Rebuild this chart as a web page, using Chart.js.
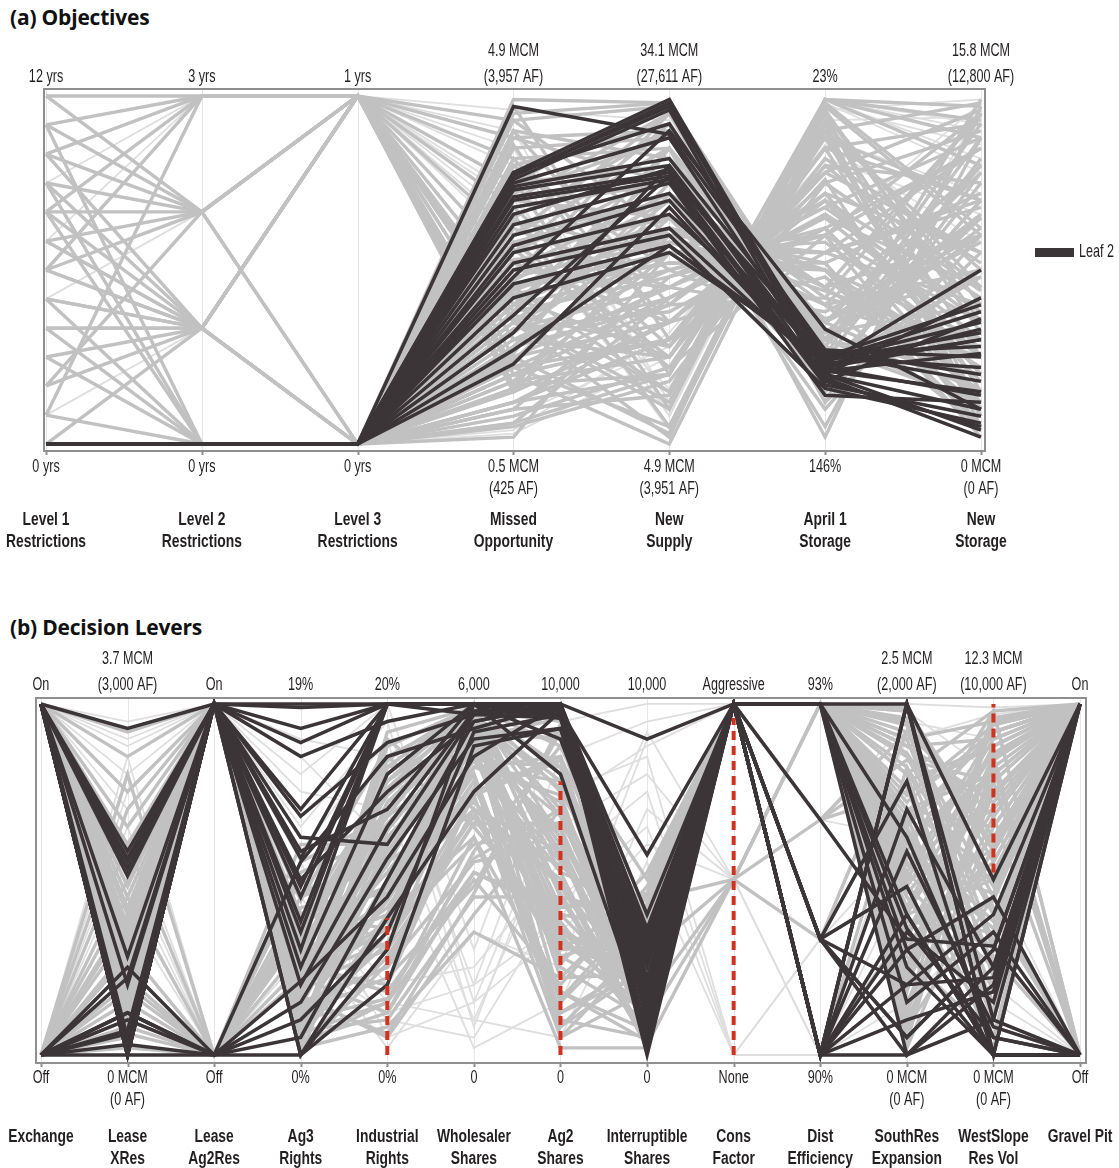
<!DOCTYPE html>
<html>
<head>
<meta charset="utf-8">
<script src="https://cdn.jsdelivr.net/npm/chart.js@4.4.1/dist/chart.umd.min.js"></script>
<style>
  body { margin: 0; background: #fff; }
  #page { position: relative; width: 1119px; height: 1168px; overflow: hidden; }
  canvas { position: absolute; left: 0; }
  .title { position: absolute; left: 10px; font: bold 21px "Open Sans", Lato, sans-serif; color: #111; line-height: 26px; letter-spacing: -0.2px; }
</style>
</head>
<body>
<div id="page">
  <div class="title" style="top:4px">(a) Objectives</div>
  <canvas id="objChart" width="1119" height="580" style="top:0"></canvas>
  <div class="title" style="top:614px">(b) Decision Levers</div>
  <canvas id="levChart" width="1119" height="588" style="top:580px"></canvas>
</div>
<script>
// (a) Objectives - axis labels
const objNames = [['Level 1', 'Restrictions'], ['Level 2', 'Restrictions'], ['Level 3', 'Restrictions'],
    ['Missed', 'Opportunity'], ['New', 'Supply'], ['April 1', 'Storage'], ['New', 'Storage']];
const objTop = [['12 yrs'], ['3 yrs'], ['1 yrs'], ['4.9 MCM', '(3,957 AF)'], ['34.1 MCM', '(27,611 AF)'],
    ['23%'], ['15.8 MCM', '(12,800 AF)']];
const objBottom = [['0 yrs'], ['0 yrs'], ['0 yrs'], ['0.5 MCM', '(425 AF)'], ['4.9 MCM', '(3,951 AF)'],
    ['146%'], ['0 MCM', '(0 AF)']];

// positions on each axis, 0 = bottom label, 1 = top label
const objGray = [
    [1, .667, 1, .93, .97, .12, .55], [.917, 1, 1, .88, .90, .20, .70], [.833, 1, 1, .82, .85, .25, .35],
    [.75, .667, 1, .75, .80, .30, .92], [.583, .333, 1, .68, .75, .35, .15], [.5, .667, 1, .60, .70, .45, .60],
    [.417, .333, 1, .52, .62, .40, .80], [.25, .333, 1, .45, .55, .50, .30], [.167, .667, 1, .38, .48, .60, .95],
    [.083, 1, 1, .30, .42, .65, .45], [0, .333, 1, .25, .35, .70, .20], [.667, 1, 1, .20, .30, .80, .75],
    [.333, .333, 1, .17, .20, .90, .50], [1, 1, 1, .35, .10, .99, .88], [.75, .333, 1, .22, .05, .95, .10],
    [.5, 1, 1, .40, .15, .99, .97], [.917, .667, 0, .55, .65, .35, .65], [.833, .333, 0, .48, .58, .55, .40],
    [.667, .667, 0, .40, .50, .62, .85], [.583, .333, 0, .33, .45, .70, .25], [.5, .333, 0, .28, .40, .78, .55],
    [.417, 0, 0, .22, .30, .85, .70], [.333, .333, 0, .18, .25, .92, .05], [.25, 0, 0, .12, .20, .99, .93],
    [.167, .333, 0, .10, .14, .97, .60], [.083, 0, 0, .06, .20, .95, .35], [.417, .333, 0, .35, .02, .99, .80],
    [.75, 0, 0, .45, .52, .50, .15], [.667, 0, 0, .50, .60, .40, .50], [.917, 0, 0, .58, .70, .30, .20],
    [0, 0, 0, .20, .00, .90, .98], [0, 0, 0, .05, .18, .75, .90], [0, 0, 0, .08, .22, .60, .85],
    [0, 0, 0, .12, .30, .55, .70], [0, 0, 0, .15, .35, .48, .10], [0, 0, 0, .20, .40, .42, .95],
    [0, 0, 0, .25, .45, .38, .60], [0, 0, 0, .30, .50, .32, .40], [0, 0, 0, .35, .55, .28, .80],
    [0, 0, 0, .40, .60, .22, .65], [0, 0, 0, .45, .65, .18, .75], [0, 0, 0, .50, .72, .10, .60],
    [0, 0, 0, .55, .78, .05, .88], [0, 0, 0, .60, .85, .02, .97], [0, 0, 0, .65, .90, .15, .50],
    [0, 0, 0, .70, .95, .25, .99], [0, 0, 0, .75, .99, .20, .70], [0, 0, 0, .80, .92, .12, .95],
    [0, 0, 0, .85, .88, .30, .60], [0, 0, 0, .90, .82, .35, .78], [0, 0, 0, .95, .98, .28, .88],
    [0, 0, 0, .99, .98, .30, .65], [0, 0, 0, .62, .45, .65, .30], [0, 0, 0, .52, .35, .72, .20],
    [0, 0, 0, .42, .25, .80, .45], [0, 0, 0, .32, .62, .50, .05], [0, 0, 0, .18, .55, .58, .25],
    [0, 0, 0, .10, .48, .68, .35], [0, 0, 0, .28, .75, .45, .15], [0, 0, 0, .38, .85, .30, .62],
    [0, 0, 0, .48, .95, .18, .78], [0, 0, 0, .58, .25, .85, .92], [0, 0, 0, .68, .28, .88, .70],
    [0, 0, 0, .25, .03, .92, .45], [0, 0, 0, .33, .38, .62, .12], [0, 0, 0, .43, .52, .52, .02],
    [0, 0, 0, .53, .58, .44, .28], [0, 0, 0, .22, .42, .66, .38], [0, 0, 0, .47, .70, .36, .48],
    [0, 0, 0, .37, .28, .76, .08], [.833, .667, 1, .15, .60, .40, .05], [.667, .333, 1, .35, .70, .30, .12],
    [0, 0, 0, .55, .92, .22, .48], [0, 0, 0, .70, .65, .50, .22], [0, 0, 0, .80, .50, .60, .35],
    [0, 0, 0, .90, .40, .72, .55], [0, 0, 0, .97, .30, .85, .15], [0, 0, 0, .86, .20, .95, .40],
    [0, 0, 0, .76, .10, .98, .62], [0, 0, 0, .66, .05, .93, .25], [0, 0, 0, .45, .15, .90, .08],
    [.583, .667, 1, .30, .25, .82, .52], [.333, 0, 0, .12, .35, .70, .42], [0, 0, 0, .06, .42, .62, .18],
    [0, 0, 0, .02, .55, .55, .85], [0, 0, 0, .24, .65, .45, .95], [0, 0, 0, .40, .80, .35, .58],
    [0, 0, 0, .60, .95, .24, .82], [0, 0, 0, .72, .88, .28, .12], [0, 0, 0, .88, .75, .42, .30],
    [0, 0, 0, .93, .60, .55, .68], [0, 0, 0, .50, .45, .68, .88], [0, 0, 0, .20, .30, .78, .96],
    [.5, .333, 1, .36, .12, .96, .32], [0, 0, 0, .56, .22, .88, .15], [0, 0, 0, .82, .35, .75, .44],
    [0, 0, 0, .64, .55, .60, .05], [0, 0, 0, .44, .62, .52, .72], [0, 0, 0, .26, .85, .32, .66],
    [0, 0, 0, .16, .72, .40, .25]
];
const objGrayLight = [
    [1, 1, 1, .96, .93, .22, .96], [.917, 1, 1, .90, .12, .99, .90], [.833, .667, 1, .85, .08, .97, .86],
    [.75, 1, 1, .80, .12, .99, .92], [.667, .667, 1, .72, .08, .99, .82], [.583, 1, 1, .65, .04, .98, .78],
    [.5, .333, 1, .58, .16, .96, .99], [.417, .667, 1, .70, .22, .93, .94], [0, 0, 0, .03, .25, .88, .72],
    [0, 0, 0, .04, .32, .82, .66], [.25, .333, 0, .08, .28, .86, .58], [.083, .333, 1, .62, .45, .60, .98]
];
const objLeaf2 = [
    [0, 0, 0, .97, .89, .27, .25], [0, 0, 0, .78, .99, .22, .30], [0, 0, 0, .77, .98, .20, .10],
    [0, 0, 0, .77, .97, .24, .35], [0, 0, 0, .76, .96, .18, .05], [0, 0, 0, .78, .92, .25, .40],
    [0, 0, 0, .75, .88, .21, .15], [0, 0, 0, .74, .82, .26, .28], [0, 0, 0, .73, .80, .19, .02],
    [0, 0, 0, .71, .78, .23, .50], [0, 0, 0, .70, .77, .27, .20], [0, 0, 0, .68, .76, .17, .08],
    [0, 0, 0, .66, .79, .22, .33], [0, 0, 0, .63, .75, .14, .12], [0, 0, 0, .60, .72, .24, .38],
    [0, 0, 0, .57, .70, .20, .42], [0, 0, 0, .55, .66, .26, .18], [0, 0, 0, .52, .62, .21, .26],
    [0, 0, 0, .50, .60, .16, .06], [0, 0, 0, .46, .57, .23, .30], [0, 0, 0, .42, .55, .25, .22],
    [0, 0, 0, .37, .77, .18, .36], [0, 0, 0, .32, .80, .22, .14], [0, 0, 0, .27, .57, .24, .32],
    [0, 0, 0, .23, .68, .20, .04], [0, 0, 0, .48, .90, .33, .10]
];

// (b) Decision Levers - axis labels
const levNames = [['Exchange'], ['Lease', 'XRes'], ['Lease', 'Ag2Res'], ['Ag3', 'Rights'], ['Industrial', 'Rights'],
    ['Wholesaler', 'Shares'], ['Ag2', 'Shares'], ['Interruptible', 'Shares'], ['Cons', 'Factor'],
    ['Dist', 'Efficiency'], ['SouthRes', 'Expansion'], ['WestSlope', 'Res Vol'], ['Gravel Pit']];
const levTop = [['On'], ['3.7 MCM', '(3,000 AF)'], ['On'], ['19%'], ['20%'], ['6,000'], ['10,000'], ['10,000'],
    ['Aggressive'], ['93%'], ['2.5 MCM', '(2,000 AF)'], ['12.3 MCM', '(10,000 AF)'], ['On']];
const levBottom = [['Off'], ['0 MCM', '(0 AF)'], ['Off'], ['0%'], ['0%'], ['0'], ['0'], ['0'], ['None'], ['90%'],
    ['0 MCM', '(0 AF)'], ['0 MCM', '(0 AF)'], ['Off']];

const levGray = [
    [1, .02, 1, .05, .40, .95, .10, .05, 1, 1, .90, .95, 1], [1, .05, 1, .10, .55, 1, .25, .10, 1, 1, .70, .80, 1],
    [1, .08, 1, .15, .65, .90, .40, .15, 1, 1, .50, .90, 1], [1, .10, 1, .20, .30, .85, .55, .20, 1, 1, .30, .70, 1],
    [1, .12, 1, .02, .80, .98, .70, .25, 1, 1, .95, .60, 1], [1, .15, 1, .25, .20, .75, .85, .30, 1, 1, .80, .98, 0],
    [1, .18, 1, .08, .70, 1, .95, .35, 1, 1, .60, .85, 1], [1, .20, 1, .12, .45, .80, .15, .40, 1, 1, .40, .50, 1],
    [1, .22, 1, .30, .60, .95, .30, .45, 1, 1, .20, .75, 1], [1, .25, 1, .18, .90, .70, .50, .02, 1, 1, .85, .40, 0],
    [1, .28, 1, .05, .35, .60, .65, .08, 1, 1, .65, .92, 1], [1, .30, 1, .22, .75, 1, .80, .12, 1, 1, .10, .65, 1],
    [1, .33, 1, .10, .50, .90, .05, .18, 1, .67, .75, .88, 1], [1, .36, 1, .28, .85, .65, .35, .22, 1, 1, .55, .30, 1],
    [1, .40, 1, .15, .25, .55, .60, .28, 1, 1, .35, .78, 0], [1, .04, 1, .35, .68, 1, .75, .32, 1, 1, .98, .55, 1],
    [1, .06, 1, .40, .58, .92, .90, .38, 1, 1, .45, .20, 1], [1, .09, 1, .03, .15, .50, .20, .48, 1, 1, .25, .95, 1],
    [1, .14, 1, .07, .10, .45, .45, .03, .5, 1, .15, .68, 1], [1, .17, 1, .17, .05, .40, .70, .10, .5, .67, .92, .45, 1],
    [1, .24, 1, 0, .62, .88, .98, .16, .5, 1, .05, .82, 0], [1, .31, 1, .24, .42, .78, .12, .24, 1, 1, .68, .10, 1],
    [1, .45, 1, .13, .72, .96, .38, .06, 1, 1, .88, .72, 1], [1, .55, 1, .19, .88, .99, .62, .14, 1, 1, .50, .58, 1],
    [1, .65, 1, .26, .52, .84, .82, .26, 1, .33, .78, .88, 1], [1, .75, 1, .09, .32, .68, .28, .36, 1, 1, .38, .35, 1],
    [1, .85, 1, .33, .78, 1, .52, .42, 1, 1, .98, .62, 1], [1, .92, 1, .04, .12, .58, .88, .50, 1, 1, .58, .98, 0],
    [0, .10, 0, .30, .40, .62, .18, .04, 1, 1, .72, .92, 1], [0, .20, 0, .45, .55, .72, .48, .11, 1, 1, .32, .55, 1],
    [0, .30, 0, .55, .68, .86, .72, .19, 1, 1, .62, .80, 1], [0, .40, 1, .12, .22, .48, .92, .27, 1, 0, .82, .42, 0],
    [0, .50, 1, .20, .38, .78, .08, .33, 1, 1, .12, .96, 1], [0, .60, 0, .25, .18, .52, .42, .44, .5, .33, .92, .68, 1],
    [0, .70, 1, .06, .64, .94, .58, .02, 1, 1, .48, .25, 1], [0, .80, 0, .38, .48, .82, .78, .13, 1, 1, .22, .85, 0],
    [0, .05, 1, .16, .85, .98, .32, .21, 1, 1, .70, .52, 1], [0, .15, 0, .50, .30, .66, .66, .29, .5, 1, .42, .75, 1],
    [0, .02, 0, .60, .60, .90, .96, .37, 1, 1, .02, .60, 1], [0, .35, 1, .02, .08, .35, .22, .46, 1, 1, .88, .90, 1],
    [1, .03, 1, .11, .48, .93, .60, .09, 1, 1, .15, .35, 1], [1, .07, 1, .21, .36, .86, .35, .17, 1, 1, .65, .15, 1],
    [1, .11, 1, .27, .70, .97, .78, .23, 1, 1, .28, .05, 1], [1, .16, 1, .01, .26, .74, .05, .31, 1, 1, .52, .28, 0],
    [1, .19, 1, .14, .82, 1, .45, .39, 1, 0, .36, .62, 1], [1, .26, 1, .23, .56, .92, .92, .04, 1, 1, .80, .12, 1],
    [0, .25, 0, .42, .46, .70, .58, .07, 1, 1, .08, .45, 1], [0, .45, 0, .35, .74, .96, .28, .15, 1, 1, .58, .02, 1],
    [1, .01, 1, .18, .62, .88, .68, .20, 1, 1, .42, .88, 1], [1, .13, 1, .09, .44, .82, .85, .11, 1, 1, .96, .32, 1],
    [1, .04, 1, .06, .15, .62, .02, .02, 1, 1, .12, .75, 1], [1, .09, 1, .14, .25, .70, .18, .07, 1, 1, .33, .85, 1],
    [1, .13, 1, .20, .38, .76, .33, .13, 1, 1, .52, .92, 1], [1, .18, 1, .26, .52, .84, .48, .19, 1, 1, .70, .65, 1],
    [1, .23, 1, .32, .66, .90, .62, .24, 1, 1, .86, .48, 1], [1, .27, 1, .38, .78, .96, .76, .29, 1, 1, .94, .22, 1],
    [1, .34, 1, .44, .88, .99, .88, .34, 1, 1, .45, .08, 0], [1, .02, 1, .09, .60, .99, .99, .40, 1, 1, .62, .38, 1],
    [1, .07, 1, .17, .72, .94, .42, .46, 1, 1, .25, .58, 1], [1, .12, 1, .04, .82, .86, .26, .52, 1, 1, .08, .78, 1],
    [0, .08, 0, .22, .32, .74, .84, .06, 1, 1, .90, .30, 1], [0, .18, 0, .34, .48, .88, .64, .14, 1, 1, .76, .18, 1],
    [0, .28, 1, .46, .56, .92, .36, .21, 1, 1, .40, .82, 1], [0, .38, 1, .28, .44, .80, .12, .27, 1, 1, .18, .98, 1],
    [1, .21, 1, .02, .28, .66, .54, .33, 1, 1, .56, .70, 1], [1, .29, 1, .10, .16, .56, .70, .09, 1, 1, .99, .58, 1],
    [1, .37, 1, .16, .06, .46, .94, .16, 1, 1, .66, .92, 1], [1, .42, 1, .24, .54, .97, .22, .23, 1, .67, .84, .78, 1],
    [1, .48, 1, .30, .68, 1, .46, .05, 1, 1, .30, .44, 1], [1, .60, 1, .36, .76, .98, .68, .12, 1, 1, .48, .86, 1],
    [1, .01, 1, .12, .92, .99, .82, .18, 1, 1, .74, .94, 1], [1, .05, 1, .18, .46, .89, .08, .25, 1, 1, .92, .68, 0],
    [0, .12, 0, .40, .36, .68, .30, .32, 1, 1, .36, .52, 1], [0, .22, 0, .52, .62, .84, .52, .03, 1, 1, .58, .36, 1],
    [1, .15, 1, .06, .70, .93, .90, .14, 1, 1, .22, .96, 1], [1, .20, 1, .22, .12, .52, .40, .36, 1, 1, .82, .26, 1],
    [1, .10, 1, .28, .84, 1, .16, .43, 1, 1, .64, .12, 1], [1, .32, 1, 0, .40, .82, .74, .07, 1, 1, .46, .74, 1],
    [0, .06, 0, .36, .70, .95, .56, .17, 1, 1, .04, .84, 1], [1, .26, 1, .14, .58, .91, .34, .11, 1, 1, .54, .46, 1]
];
const levGrayLight = [
    [1, .60, 1, .80, 1, .30, .95, 1, 1, 1, 1, .99, 1], [1, .70, 1, .90, .85, .20, .85, .95, 1, .67, .95, .90, 1],
    [1, .80, 1, .65, .95, .15, .75, .85, 0, .33, .90, .97, 1], [1, .90, 1, .75, .70, .10, .65, .80, .5, 1, .98, .80, 1],
    [0, .40, 0, .50, .20, .25, .55, .75, 0, .33, .60, .50, 0], [0, .55, 0, .40, .10, .05, .45, .65, 0, 0, .30, .20, 0],
    [0, .75, 1, .55, .05, .15, .35, .60, .5, 0, .50, .30, 0], [1, .50, 0, .35, .02, .35, .25, .90, 1, 0, .15, .40, 0],
    [1, .95, 1, .85, .60, .02, .15, .70, .5, 0, .40, .10, 0], [0, .85, 0, .45, .15, .10, .05, .55, 0, 0, .75, .15, 0],
    [0, .65, 0, .28, .12, .20, .38, .92, .5, 1, .85, .70, 1], [1, .88, 1, .58, .90, .08, .72, .88, 1, .67, .62, .95, 1]
];
const levLeaf2 = [
    [1, .93, 1, 1, 1, 1, 1, .90, 1, 1, 1, .50, 1], [1, 0, 1, .89, 1, 1, .98, .57, 1, 1, .30, 0, 0],
    [1, 0, 1, .68, .89, .97, 1, .34, 1, 0, 1, .10, 0], [1, .02, 1, .56, 1, 1, .96, .28, 1, .33, .05, .30, 1],
    [1, .55, 1, .50, .75, .95, 1, .20, 1, 0, .40, 0, 0], [0, .12, 0, .15, .56, .90, .93, .15, 1, 1, 0, .25, 1],
    [1, .05, 1, .30, 1, 1, .80, .08, 1, .33, .78, 0, 0], [0, .25, 0, .21, .45, .85, 1, .03, 1, 0, .20, .40, 1],
    [1, 0, 1, 0, .39, .75, .98, 0, 1, 1, .62, .05, 0], [1, .58, 1, .38, 1, 1, 1, .30, 1, 0, 1, 0, 1],
    [1, .20, 1, .62, .60, .97, .96, .32, 1, .67, .33, .31, 0], [0, .10, 0, .05, .50, .95, 1, .18, 1, 0, .10, .18, 1],
    [1, 0, 1, .45, 1, 1, .90, .25, 1, 1, .40, 0, 1], [0, .06, 1, .25, .80, 1, .98, .12, 1, 0, .30, .45, 0],
    [1, .28, 1, .99, 1, 1, 1, .05, 1, .33, 0, .20, 1], [0, .03, 0, .10, .35, .92, .97, .22, 1, 0, .58, .08, 0],
    [1, 0, 1, .58, .70, 1, 1, .40, 1, 1, .25, 0, 0], [0, .07, 1, .35, 1, .97, .99, .10, 1, .33, .05, .30, 1],
    [1, .53, 1, .70, 1, 1, 1, .02, 1, 0, 1, 0, 0], [0, 0, 0, 0, .20, .88, .93, .26, 1, 0, .35, .15, 1],
    [1, .56, 1, .85, .95, 1, .96, .14, 1, 1, .15, .35, 0], [1, 0, 1, .48, 1, 1, 1, .06, 1, 0, .70, .25, 1],
    [0, .22, 1, .20, .65, .98, .99, .36, 1, .33, .48, 0, 0], [1, 0, 1, 0, .30, 1, 1, .16, 1, 0, 0, .10, 1],
    [0, .12, 0, .55, .85, .93, 1, .01, 1, 1, .36, .05, 0], [1, .51, 1, .93, 1, 1, .97, .04, 1, .33, .20, .22, 1]
];
// red dashed ranges: [axis, from, to]
const levRedRanges = [[4, 0, .39], [6, 0, .78], [8, 0, .96], [11, .52, 1]];

const GRAY = '#c1c1c1';
const GRAY_LIGHT = '#dedede';
const DARK = '#3b3537';
const RED = '#cf3320';
const TEXT = '#231f20';

function lineSet(row, color, width, order, label) {
    return {
        label: label,
        data: row.map((v, i) => ({x: i, y: v})),
        borderColor: color,
        backgroundColor: color,
        borderWidth: width,
        pointRadius: 0,
        tension: 0,
        fill: false,
        order: order
    };
}

function squeezedText(ctx, str, x, y, size, bold, squeeze, align) {
    ctx.save();
    ctx.font = (bold ? 'bold ' : '') + size + 'px "Liberation Sans", Arial, sans-serif';
    ctx.fillStyle = TEXT;
    ctx.translate(x, y);
    ctx.scale(squeeze, 1);
    ctx.textAlign = align || 'center';
    ctx.textBaseline = 'middle';
    ctx.fillText(str, 0, 0);
    ctx.restore();
}

// frame, axis lines and all labels of a parallel coordinates plot
const parallelAxes = {
    id: 'parallelAxes',
    beforeDatasetsDraw(chart, args, opts) {
        const {ctx, chartArea: a, scales: {x}} = chart;
        ctx.save();
        ctx.strokeStyle = '#e6e6e6';
        ctx.lineWidth = 1;
        opts.names.forEach((n, i) => {
            const px = Math.round(x.getPixelForValue(i)) + 0.5;
            ctx.beginPath();
            ctx.moveTo(px, a.top);
            ctx.lineTo(px, a.bottom);
            ctx.stroke();
        });
        ctx.restore();
    },
    afterDatasetsDraw(chart, args, opts) {
        const {ctx, chartArea: a, scales: {x}} = chart;
        ctx.save();
        ctx.strokeStyle = '#8f8f8f';
        ctx.lineWidth = 2;
        ctx.strokeRect(a.left, a.top, a.right - a.left, a.bottom - a.top);
        opts.names.forEach((n, i) => {
            const px = Math.round(x.getPixelForValue(i)) + 0.5;
            ctx.beginPath();
            ctx.moveTo(px, a.bottom);
            ctx.lineTo(px, a.bottom + 4);
            ctx.stroke();
        });
        ctx.restore();
    },
    afterDraw(chart, args, opts) {
        const {ctx, chartArea: a, scales: {x}} = chart;
        opts.names.forEach((name, i) => {
            const px = x.getPixelForValue(i);
            const top = opts.top[i];
            top.forEach((t, k) => {
                squeezedText(ctx, t, px, a.top - opts.topGap - (top.length - 1 - k) * 26, 18, false, 0.7);
            });
            opts.bottom[i].forEach((t, k) => {
                squeezedText(ctx, t, px, a.bottom + opts.bottomGap + k * 22, 18, false, 0.7);
            });
            name.forEach((t, k) => {
                squeezedText(ctx, t, px, a.bottom + opts.nameGap + k * 22, 18, true, 0.77);
            });
        });
        if (opts.legend) {
            const lg = opts.legend;
            ctx.save();
            ctx.fillStyle = lg.color;
            ctx.fillRect(lg.x, lg.y - 4, 39, 9);
            ctx.restore();
            squeezedText(ctx, lg.text, lg.x + 44, lg.y, 18, false, 0.7, 'left');
        }
    }
};

function buildChart(id, opts) {
    const datasets = [];
    opts.light.forEach(r => datasets.push(lineSet(r, GRAY_LIGHT, 1.8, 4, 'other')));
    opts.gray.forEach(r => datasets.push(lineSet(r, GRAY, 3.4, 3, 'other')));
    opts.leaf.forEach(r => datasets.push(lineSet(r, DARK, 3.5, 1, 'Leaf 2')));
    (opts.red || []).forEach(r => datasets.push({
        label: 'range',
        data: [{x: r[0], y: r[1]}, {x: r[0], y: r[2]}],
        borderColor: RED,
        borderWidth: 4,
        borderDash: [9, 6],
        pointRadius: 0,
        order: 0
    }));

    return new Chart(document.getElementById(id), {
        type: 'line',
        data: {datasets},
        options: {
            responsive: false,
            animation: false,
            events: [],
            layout: {padding: opts.padding},
            scales: {
                x: {type: 'linear', min: opts.xMin, max: opts.xMax, display: false},
                y: {type: 'linear', min: opts.yMin, max: opts.yMax, display: false}
            },
            plugins: {
                legend: {display: false},
                tooltip: {enabled: false},
                parallelAxes: opts.axes
            }
        },
        plugins: [parallelAxes]
    });
}

buildChart('objChart', {
    gray: objGray, light: objGrayLight, leaf: objLeaf2,
    padding: {left: 44, right: 134, top: 89, bottom: 129},
    xMin: -0.013, xMax: 6.026, yMin: -0.02, yMax: 1.02,
    axes: {
        names: objNames, top: objTop, bottom: objBottom,
        topGap: 12, bottomGap: 16, nameGap: 69,
        legend: {text: 'Leaf 2', color: DARK, x: 1035, y: 252}
    }
});

buildChart('levChart', {
    gray: levGray, light: levGrayLight, leaf: levLeaf2, red: levRedRanges,
    padding: {left: 36, right: 33, top: 118, bottom: 105},
    xMin: -0.057, xMax: 12.069, yMin: -0.023, yMax: 1.017,
    axes: {
        names: levNames, top: levTop, bottom: levBottom,
        topGap: 13, bottomGap: 15, nameGap: 74
    }
});
</script>
</body>
</html>
